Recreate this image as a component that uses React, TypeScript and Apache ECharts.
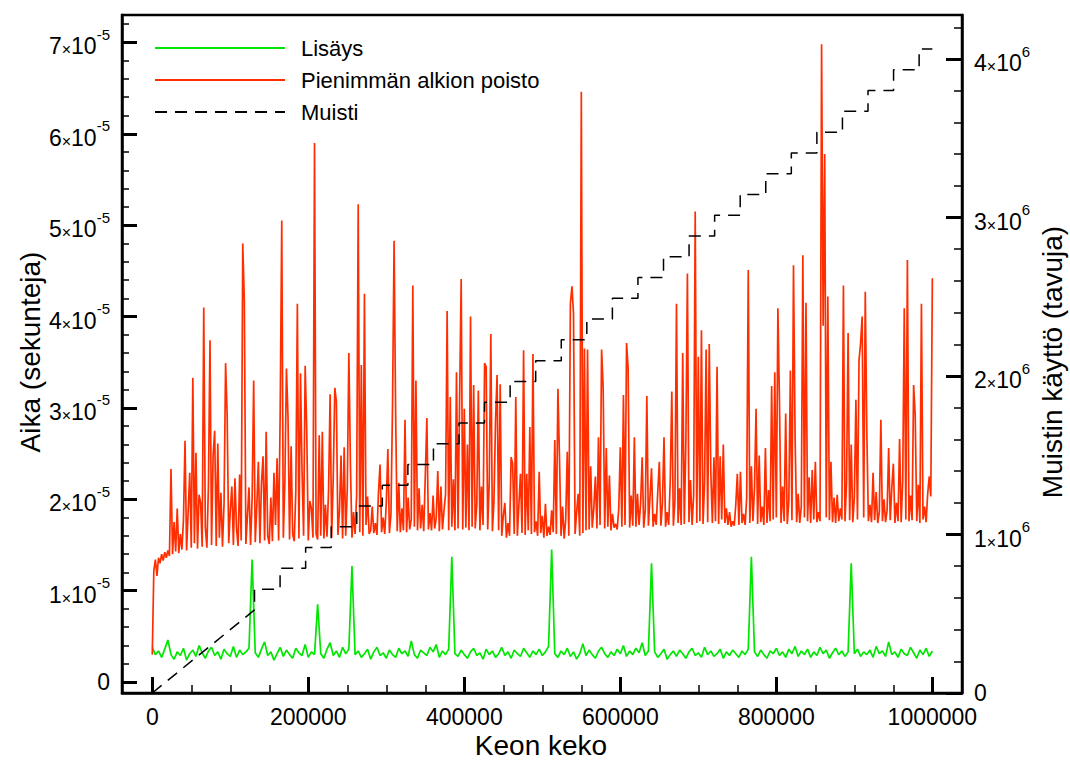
import React, { useEffect, useRef } from "react";
import * as echarts from "echarts";

const FONT = '"Liberation Sans", Arial, Helvetica, sans-serif';

// Sampling of the heap size (elements) for each measured series
const insertSampleStep = 4000;
const removeSampleStep = 2000;

// Lisäys — time per insert, in units of 1e-5 s (one value per 4000 elements)
const insertTimes = [
  0.38, 0.30, 0.34, 0.27, 0.36, 0.46, 0.30, 0.25, 0.33, 0.29,
  0.37, 0.24, 0.31, 0.35, 0.28, 0.40, 0.32, 0.26, 0.34, 0.38,
  0.29, 0.33, 0.25, 0.36, 0.31, 0.28, 0.39, 0.27, 0.35, 0.30,
  0.33, 0.37, 1.34, 0.32, 0.27, 0.36, 0.44, 0.29, 0.33, 0.24,
  0.31, 0.38, 0.28, 0.35, 0.30, 0.26, 0.37, 0.32, 0.29, 0.41,
  0.27, 0.33, 0.30, 0.85, 0.31, 0.26, 0.36, 0.43, 0.29, 0.34,
  0.27, 0.38, 0.31, 0.36, 1.27, 0.30, 0.34, 0.27, 0.31, 0.36,
  0.25, 0.33, 0.38, 0.29, 0.32, 0.26, 0.35, 0.30, 0.27, 0.37,
  0.31, 0.34, 0.28, 0.45, 0.30, 0.26, 0.35, 0.32, 0.29, 0.38,
  0.33, 0.41, 0.27, 0.34, 0.30, 0.36, 1.37, 0.31, 0.28, 0.35,
  0.30, 0.26, 0.33, 0.37, 0.29, 0.32, 0.25, 0.36, 0.30, 0.34,
  0.27, 0.31, 0.38, 0.29, 0.33, 0.26, 0.35, 0.31, 0.28, 0.37,
  0.32, 0.27, 0.34, 0.30, 0.36, 0.29, 0.33, 0.39, 1.45, 0.31,
  0.27, 0.34, 0.30, 0.37, 0.28, 0.33, 0.25, 0.31, 0.42, 0.29,
  0.35, 0.30, 0.26, 0.34, 0.38, 0.31, 0.27, 0.33, 0.29, 0.36,
  0.31, 0.40, 0.28, 0.34, 0.30, 0.37, 0.32, 0.43, 0.29, 0.34,
  1.30, 0.33, 0.27, 0.31, 0.36, 0.25, 0.30, 0.34, 0.28, 0.35,
  0.31, 0.26, 0.33, 0.37, 0.29, 0.32, 0.27, 0.38, 0.30, 0.34,
  0.28, 0.31, 0.36, 0.26, 0.33, 0.29, 0.35, 0.31, 0.27, 0.34,
  0.30, 0.36, 1.37, 0.33, 0.28, 0.35, 0.30, 0.26, 0.34, 0.31,
  0.37, 0.29, 0.33, 0.27, 0.36, 0.31, 0.39, 0.28, 0.34, 0.30,
  0.36, 0.27, 0.33, 0.29, 0.38, 0.31, 0.35, 0.26, 0.32, 0.37,
  0.30, 0.34, 0.28, 0.33, 1.30, 0.31, 0.36, 0.28, 0.33, 0.30,
  0.35, 0.27, 0.39, 0.31, 0.34, 0.28, 0.44, 0.30, 0.33, 0.27,
  0.36, 0.31, 0.29, 0.38, 0.32, 0.26, 0.35, 0.30, 0.37, 0.28,
  0.34,
];

// Pienimmän alkion poisto — time per delete-min, in units of 1e-5 s (one value per 2000 elements)
const removeMinTimes = [
  0.30, 1.22, 1.34, 1.16, 1.36, 1.30, 1.40, 1.33, 1.42, 1.36,
  1.44, 1.38, 2.33, 1.40, 1.75, 1.43, 1.90, 1.41, 1.62, 1.45,
  1.78, 2.64, 1.44, 1.86, 2.29, 1.47, 3.33, 1.52, 2.51, 1.46,
  2.05, 1.96, 1.48, 4.10, 1.70, 1.47, 2.15, 3.74, 1.50, 2.48,
  2.75, 1.49, 2.61, 1.58, 2.07, 1.48, 1.95, 3.49, 2.92, 1.52,
  1.88, 2.14, 1.50, 2.23, 1.68, 1.49, 2.27, 1.55, 4.80, 4.17,
  1.51, 1.82, 2.13, 1.50, 2.00, 3.30, 1.53, 1.92, 2.41, 1.52,
  2.18, 2.47, 1.55, 2.74, 1.60, 1.51, 2.02, 1.54, 2.29, 1.72,
  2.45, 1.55, 2.96, 5.05, 1.58, 2.20, 3.43, 2.90, 1.56, 2.58,
  1.62, 1.54, 2.08, 4.14, 1.57, 3.38, 2.32, 1.60, 3.46, 2.76,
  1.55, 1.98, 1.90, 1.58, 5.90, 1.62, 1.56, 2.70, 1.60, 2.74,
  1.57, 1.94, 1.59, 2.10, 3.15, 1.58, 2.24, 3.22, 3.07, 1.61,
  1.88, 2.48, 1.57, 2.57, 1.60, 2.12, 3.60, 2.39, 1.58, 1.86,
  1.62, 2.05, 5.23, 1.64, 3.47, 1.60, 4.25, 1.72, 2.03, 1.62,
  1.66, 1.92, 1.63, 1.74, 1.61, 2.08, 2.38, 1.64, 1.80, 1.62,
  1.96, 2.55, 1.63, 1.84, 3.04, 4.83, 2.91, 1.65, 2.18, 1.64,
  1.90, 1.66, 2.87, 1.64, 2.02, 1.67, 1.78, 4.34, 1.70, 3.30,
  1.66, 2.12, 1.68, 1.94, 1.65, 2.26, 2.89, 1.67, 1.85, 1.66,
  2.04, 1.68, 1.79, 2.31, 1.65, 2.14, 1.67, 1.88, 2.06, 4.06,
  1.66, 3.12, 1.70, 2.22, 1.66, 3.39, 1.68, 3.11, 4.41, 1.67,
  2.99, 1.69, 2.60, 1.66, 4.00, 1.70, 3.25, 1.68, 1.95, 3.19,
  1.66, 2.14, 1.72, 3.49, 3.45, 1.67, 2.20, 3.81, 1.65, 1.98,
  2.85, 3.36, 1.66, 3.26, 1.60, 1.82, 1.96, 1.58, 1.74, 1.60,
  2.46, 2.39, 1.62, 3.12, 1.60, 1.94, 2.28, 1.63, 3.63, 1.61,
  2.28, 1.66, 2.79, 1.62, 3.59, 1.64, 1.76, 1.60, 2.30, 1.63,
  1.82, 1.58, 1.95, 1.60, 1.70, 1.61, 1.88, 1.64, 2.65, 1.62,
  3.21, 2.46, 1.60, 1.92, 1.57, 1.78, 2.52, 1.60, 4.14, 4.33,
  4.03, 1.62, 1.86, 2.06, 1.60, 6.46, 1.63, 3.65, 1.66, 3.64,
  1.67, 2.36, 1.69, 1.90, 2.25, 1.68, 2.68, 1.72, 3.64, 3.22,
  1.68, 2.56, 1.70, 2.26, 1.66, 1.84, 1.69, 1.73, 1.67, 1.90,
  2.57, 1.70, 3.14, 1.72, 3.71, 3.43, 1.69, 2.04, 1.71, 2.68,
  1.70, 2.06, 1.72, 1.95, 2.46, 1.69, 1.88, 3.13, 1.71, 2.02,
  2.34, 1.70, 1.84, 1.72, 2.08, 2.41, 1.71, 1.96, 2.68, 1.70,
  1.86, 1.72, 2.20, 3.18, 1.71, 1.98, 4.14, 1.74, 2.12, 1.72,
  3.60, 1.73, 2.61, 4.47, 1.75, 2.21, 1.72, 2.04, 5.15, 1.74,
  3.56, 1.76, 3.85, 1.73, 2.18, 3.64, 1.75, 3.70, 2.30, 1.74,
  2.46, 1.76, 3.45, 1.73, 2.47, 1.78, 2.60, 1.74, 1.90, 1.72,
  1.86, 1.70, 1.76, 1.71, 1.94, 2.28, 1.72, 2.30, 1.74, 1.84,
  1.72, 2.02, 4.51, 1.74, 2.36, 1.76, 2.12, 2.99, 1.73, 2.48,
  1.75, 1.92, 1.72, 2.56, 1.74, 2.10, 1.76, 3.24, 1.78, 3.39,
  1.80, 4.09, 3.07, 1.74, 2.14, 1.76, 2.94, 1.73, 1.98, 3.41,
  1.77, 4.56, 2.70, 1.75, 2.06, 1.74, 1.92, 4.67, 1.80, 4.15,
  1.76, 2.24, 1.74, 2.32, 1.78, 2.41, 1.75, 1.86, 1.76, 6.98,
  3.90, 5.78, 1.80, 4.22, 1.77, 2.41, 1.75, 2.02, 1.74, 2.05,
  1.76, 1.90, 1.78, 4.34, 1.76, 2.18, 3.82, 1.77, 2.60, 1.75,
  2.02, 3.09, 1.78, 3.52, 3.71, 4.00, 1.80, 4.27, 2.73, 1.76,
  1.94, 1.75, 2.29, 1.77, 2.08, 1.74, 1.86, 2.87, 1.76, 2.00,
  1.75, 1.88, 2.56, 1.77, 2.12, 2.39, 1.74, 1.96, 1.76, 2.66,
  1.75, 2.20, 4.09, 1.78, 4.62, 1.76, 2.04, 1.77, 3.25, 2.92,
  1.76, 2.16, 1.74, 4.14, 1.78, 1.92, 1.75, 2.06, 2.25, 2.03,
  4.42,
];

// Muisti — memory use in bytes
const memoryRamp = [
  [0, 0],
  [131072, 524288],
];
const memoryStepX = [
  131072, 163840, 196608, 229376, 262144, 294912, 327680, 360448, 393216,
  425984, 458752, 491520, 524288, 557056, 589824, 622592, 655360, 688128,
  720896, 753664, 786432, 819200, 851968, 884736, 917504, 950272, 983040,
];
const memoryStepBytes = [
  655360, 786432, 917504, 1048576, 1179648, 1310720, 1441792, 1572864, 1703936,
  1835008, 1966080, 2097152, 2228224, 2359296, 2490368, 2621440, 2752512,
  2883584, 3014656, 3145728, 3276800, 3407872, 3538944, 3670016, 3801088,
  3932160, 4063232,
];
const memoryEndX = 1000000;

// Tick labels
const xTickValues = [0, 200000, 400000, 600000, 800000, 1000000];
const timeTickMantissas = [0, 1, 2, 3, 4, 5, 6, 7]; // ×10^-5
const memoryTickMantissas = [0, 1, 2, 3, 4]; // ×10^6

const seriesNames = ["Lisäys", "Pienimmän alkion poisto", "Muisti"];
const xTitle = "Keon keko";
const yLeftTitle = "Aika (sekunteja)";
const yRightTitle = "Muistin käyttö (tavuja)";

function buildOption() {
  const insertData = insertTimes.map((v, i) => [i * insertSampleStep, v * 1e-5]);
  const removeData = removeMinTimes.map((v, i) => [i * removeSampleStep, v * 1e-5]);
  const memoryData: number[][] = memoryRamp.map((p) => [p[0], p[1]]);
  let prev = memoryRamp[memoryRamp.length - 1][1];
  memoryStepX.forEach((x, k) => {
    memoryData.push([x, prev]);
    memoryData.push([x, memoryStepBytes[k]]);
    prev = memoryStepBytes[k];
  });
  memoryData.push([memoryEndX, prev]);

  const xMinor: number[] = [];
  for (let v = 50000; v <= 1000000; v += 50000) xMinor.push(v);
  const leftMinor: number[] = [];
  for (let k = 1; k <= 36; k++) leftMinor.push(k * 0.2e-5);
  const rightMinor: number[] = [];
  for (let k = 1; k <= 21; k++) rightMinor.push(k * 0.2e6);

  const leftTicks = timeTickMantissas.map((m) => m * 1e-5);
  const rightTicks = memoryTickMantissas.map((m) => m * 1e6);

  const txt = { fontFamily: FONT, color: "#000" };
  const rich = {
    n: { ...txt, fontSize: 23, lineHeight: 20, verticalAlign: "bottom" },
    x: { ...txt, fontSize: 16, lineHeight: 20, verticalAlign: "bottom" },
    e: { ...txt, fontSize: 15, lineHeight: 31, verticalAlign: "top" },
    z: { ...txt, fontSize: 23, lineHeight: 30 },
  };
  const sciLabel = (exp: string, unit: number) => (v: number) => {
    const m = Math.round(v / unit);
    if (m === 0) return "{z|0}";
    return `{n|${m}}{x|×}{n|10}{e|${exp}}`;
  };

  const axisLineStyle = { show: true, onZero: false, lineStyle: { color: "#000", width: 2.5 } };
  const hiddenLine = { show: false, onZero: false };

  const yMin = -0.12e-5;
  const yMax = 7.3e-5;
  const mMin = 0;
  const mMax = 4.278e6;
  const xMin = -38800;
  const xMax = 1038000;

  const titleStyle = (text: string) => ({
    text,
    font: `28px ${FONT}`,
    fill: "#000",
    align: "center",
    verticalAlign: "middle",
    textAlign: "center",
    textVerticalAlign: "middle",
  });

  return {
    animation: false,
    backgroundColor: "#fff",
    grid: {
      left: 122,
      right: 108,
      top: 15,
      bottom: 67,
      show: true,
      borderColor: "#000",
      borderWidth: 2.5,
      backgroundColor: "transparent",
      containLabel: false,
      outerBoundsMode: "none",
    },
    legend: {
      data: seriesNames,
      orient: "vertical",
      left: 154,
      top: 37,
      padding: 0,
      itemWidth: 130,
      itemHeight: 22,
      itemGap: 10,
      selectedMode: false,
      itemStyle: { opacity: 0 },
      textStyle: { ...txt, fontSize: 22, lineHeight: 22, padding: [0, 0, 0, 11] },
    },
    xAxis: [
      {
        type: "value",
        min: xMin,
        max: xMax,
        axisLine: axisLineStyle,
        splitLine: { show: false },
        axisTick: {
          show: true,
          inside: true,
          length: 16,
          customValues: xTickValues,
          lineStyle: { color: "#000", width: 3 },
        },
        axisLabel: {
          show: true,
          customValues: xTickValues,
          margin: 12,
          ...txt,
          fontSize: 23,
          formatter: (v: number) => String(Math.round(v)),
        },
      },
      {
        type: "value",
        min: xMin,
        max: xMax,
        position: "bottom",
        axisLine: hiddenLine,
        splitLine: { show: false },
        axisTick: {
          show: true,
          inside: true,
          length: 8,
          customValues: xMinor,
          lineStyle: { color: "#000", width: 1.5 },
        },
        axisLabel: { show: false },
      },
    ],
    yAxis: [
      {
        type: "value",
        position: "left",
        min: yMin,
        max: yMax,
        axisLine: axisLineStyle,
        splitLine: { show: false },
        axisTick: {
          show: true,
          inside: true,
          length: 15,
          customValues: leftTicks,
          lineStyle: { color: "#000", width: 3 },
        },
        axisLabel: {
          show: true,
          customValues: leftTicks,
          margin: 12,
          rich,
          formatter: sciLabel("-5", 1e-5),
        },
      },
      {
        type: "value",
        position: "left",
        min: yMin,
        max: yMax,
        axisLine: hiddenLine,
        splitLine: { show: false },
        axisTick: {
          show: true,
          inside: true,
          length: 7,
          customValues: leftMinor,
          lineStyle: { color: "#000", width: 1.5 },
        },
        axisLabel: { show: false },
      },
      {
        type: "value",
        position: "right",
        min: mMin,
        max: mMax,
        axisLine: axisLineStyle,
        splitLine: { show: false },
        axisTick: {
          show: true,
          inside: true,
          length: 16,
          customValues: rightTicks,
          lineStyle: { color: "#000", width: 3 },
        },
        axisLabel: {
          show: true,
          customValues: rightTicks,
          margin: 12,
          rich,
          formatter: sciLabel("6", 1e6),
        },
      },
      {
        type: "value",
        position: "right",
        min: mMin,
        max: mMax,
        axisLine: hiddenLine,
        splitLine: { show: false },
        axisTick: {
          show: true,
          inside: true,
          length: 8,
          customValues: rightMinor,
          lineStyle: { color: "#000", width: 1.5 },
        },
        axisLabel: { show: false },
      },
    ],
    series: [
      {
        name: seriesNames[0],
        type: "line",
        xAxisIndex: 0,
        yAxisIndex: 0,
        data: insertData,
        symbol: "none",
        showSymbol: false,
        lineStyle: { color: "#00e600", width: 1.7 },
        itemStyle: { color: "#00e600" },
      },
      {
        name: seriesNames[1],
        type: "line",
        xAxisIndex: 0,
        yAxisIndex: 0,
        data: removeData,
        symbol: "none",
        showSymbol: false,
        lineStyle: { color: "#ff2e00", width: 1.7 },
        itemStyle: { color: "#ff2e00" },
      },
      {
        name: seriesNames[2],
        type: "line",
        xAxisIndex: 0,
        yAxisIndex: 2,
        data: memoryData,
        symbol: "none",
        showSymbol: false,
        lineStyle: { color: "#000", width: 1.5, type: [12, 8] },
        itemStyle: { color: "#000" },
      },
    ],
    graphic: [
      { type: "text", x: 541, y: 745, style: titleStyle(xTitle) },
      { type: "text", x: 30, y: 352, rotation: Math.PI / 2, style: titleStyle(yLeftTitle) },
      { type: "text", x: 1052, y: 362, rotation: Math.PI / 2, style: titleStyle(yRightTitle) },
    ],
  };
}

export default function App() {
  const ref = useRef<HTMLDivElement | null>(null);
  useEffect(() => {
    if (!ref.current) return;
    const chart = echarts.init(ref.current, undefined, { renderer: "svg" });
    chart.setOption(buildOption() as any);
    return () => chart.dispose();
  }, []);
  return (
    <div
      ref={ref}
      style={{ position: "absolute", left: 0, top: 0, width: 1070, height: 760, background: "#fff" }}
    />
  );
}
